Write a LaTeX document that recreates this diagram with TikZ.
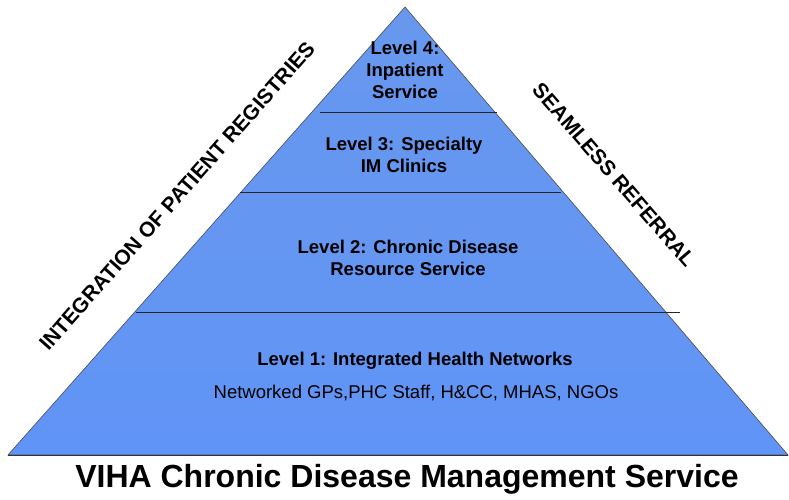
\documentclass[tikz,border=0pt]{standalone}
\usepackage{fontspec}
\setmainfont{Liberation Sans}

\definecolor{pyrtop}{RGB}{104,152,238}
\definecolor{pyrmid}{RGB}{86,132,220}
\definecolor{pyrbot}{RGB}{96,148,246}

\tikzset{
  level/.style={align=center, font=\bfseries\fontsize{18.5}{21.7}\selectfont},
  sidelabel/.style={font=\bfseries\fontsize{21}{25}\selectfont},
  divider/.style={draw=black!85, line width=1pt}
}

\begin{document}
\begin{tikzpicture}[x=1pt,y=-1pt]
\useasboundingbox (0,0) rectangle (789,499);
% corners of the pyramid
\coordinate (apex) at (405,7);
\coordinate (bl) at (8,455);
\coordinate (br) at (788,455);
\shade[top color=pyrtop, middle color=pyrmid, bottom color=pyrbot,
       draw=black!70, line width=0.6pt] (bl) -- (apex) -- (br) -- cycle;
\draw[black!80, line width=1pt] (bl) -- (br);

% level dividers
\coordinate (d1l) at (320,112); \coordinate (d1r) at (497,112);
\coordinate (d2l) at (240,192); \coordinate (d2r) at (561,192);
\coordinate (d3l) at (136,312); \coordinate (d3r) at (680,312);
\foreach \n in {1,2,3}
  \draw[divider] (d\n l) -- (d\n r);

% levels, top down
\node[level] (lvl4) at (405,70) {Level 4:\\Inpatient\\Service};
\node[level] (lvl3) at (404,155) {Level 3: Specialty\\IM Clinics};
\node[level] (lvl2) at (408,258) {Level 2: Chronic Disease\\Resource Service};
\node[level, anchor=base] (lvl1) at (415,365) {Level 1: Integrated Health Networks};
\node[anchor=base, font=\fontsize{18.5}{22}\selectfont] (staff) at (416,398)
  {Networked GPs,PHC Staff, H\&CC, MHAS, NGOs};

% side labels
\node[sidelabel, rotate=48.5] (registries) at (177,196) {INTEGRATION OF PATIENT REGISTRIES};
\node[sidelabel, rotate=-49] (referral) at (614,175) {SEAMLESS REFERRAL};

% title
\node[anchor=base, font=\bfseries\fontsize{32}{38}\selectfont] (title) at (407,487)
  {VIHA Chronic Disease Management Service};
\end{tikzpicture}
\end{document}
